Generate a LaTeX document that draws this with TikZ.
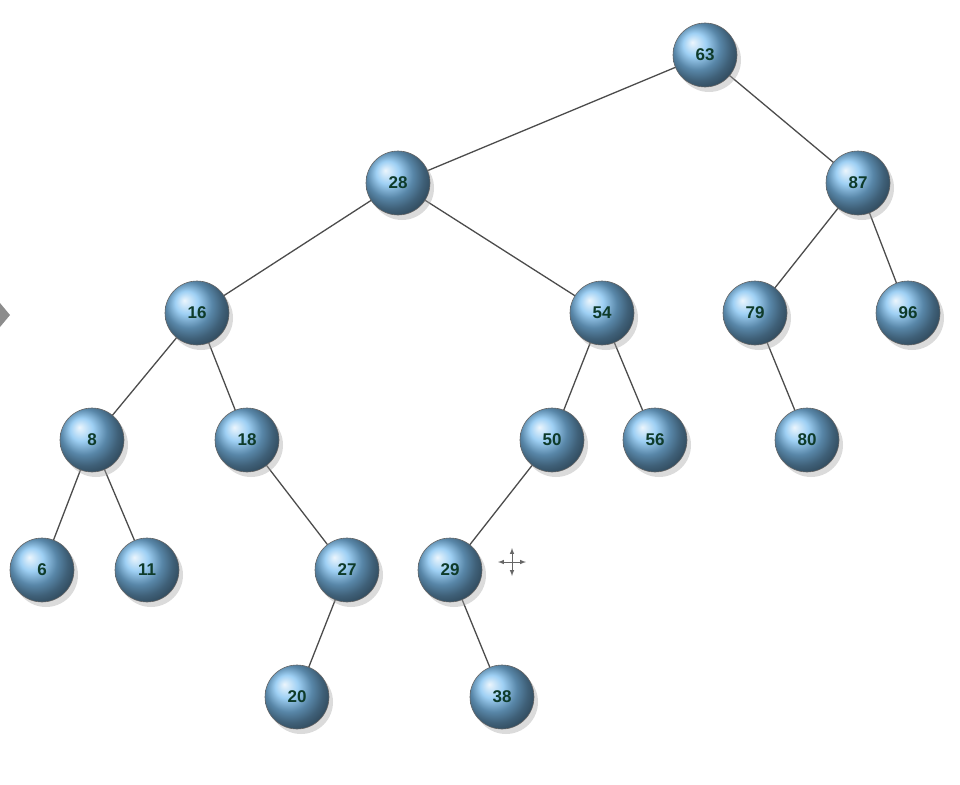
\documentclass[tikz,border=0pt]{standalone}
\usepackage{fontspec}
\setmainfont{Liberation Sans}
\usetikzlibrary{shadows}
\definecolor{ballc}{HTML}{7EC0F0}
\definecolor{txt}{HTML}{0E3B2A}
\tikzset{
  tn/.style={circle, minimum size=64pt, inner sep=0pt, shading=ball, ball color=ballc,
    draw=black!60, line width=0.6pt, font=\bfseries\fontsize{17}{17}\selectfont, text=txt,
    drop shadow={shadow xshift=4pt, shadow yshift=-5pt, fill=black!35, opacity=0.4}},
  ed/.style={draw=black!70, line width=1.3pt}
}
\begin{document}
\begin{tikzpicture}[x=1pt,y=-1pt]
\useasboundingbox (0,0) rectangle (960,784);
\foreach \n/\x/\y in {a63/705/55, a28/398/183, a87/858/183, a16/197/313, a54/602/313,
  a79/755/313, a96/908/313, a8/92/440, a18/247/440, a50/552/440, a56/655/440, a80/807/440,
  a6/42/570, a11/147/570, a27/347/570, a29/450/570, a20/297/697, a38/502/697}
  \coordinate (p\n) at (\x,\y);
\foreach \a/\b in {a63/a28, a63/a87, a28/a16, a28/a54, a87/a79, a87/a96, a16/a8, a16/a18,
  a54/a50, a54/a56, a79/a80, a8/a6, a8/a11, a18/a27, a50/a29, a27/a20, a29/a38}
  \draw[ed] (p\a) -- (p\b);
\foreach \n/\t in {a63/63, a28/28, a87/87, a16/16, a54/54, a79/79, a96/96, a8/8, a18/18,
  a50/50, a56/56, a80/80, a6/6, a11/11, a27/27, a29/29, a20/20, a38/38}
  \node[tn] (\n) at (p\n) {\t};
\fill[black!45] (0,303) -- (10,315) -- (0,327) -- cycle;
\coordinate (cur) at (512,562);
\draw[black!60, line width=1pt, -latex] (cur) -- ++(0,-14);
\draw[black!60, line width=1pt, -latex] (cur) -- ++(0,14);
\draw[black!60, line width=1pt, -latex] (cur) -- ++(-14,0);
\draw[black!60, line width=1pt, -latex] (cur) -- ++(14,0);
\end{tikzpicture}
\end{document}
